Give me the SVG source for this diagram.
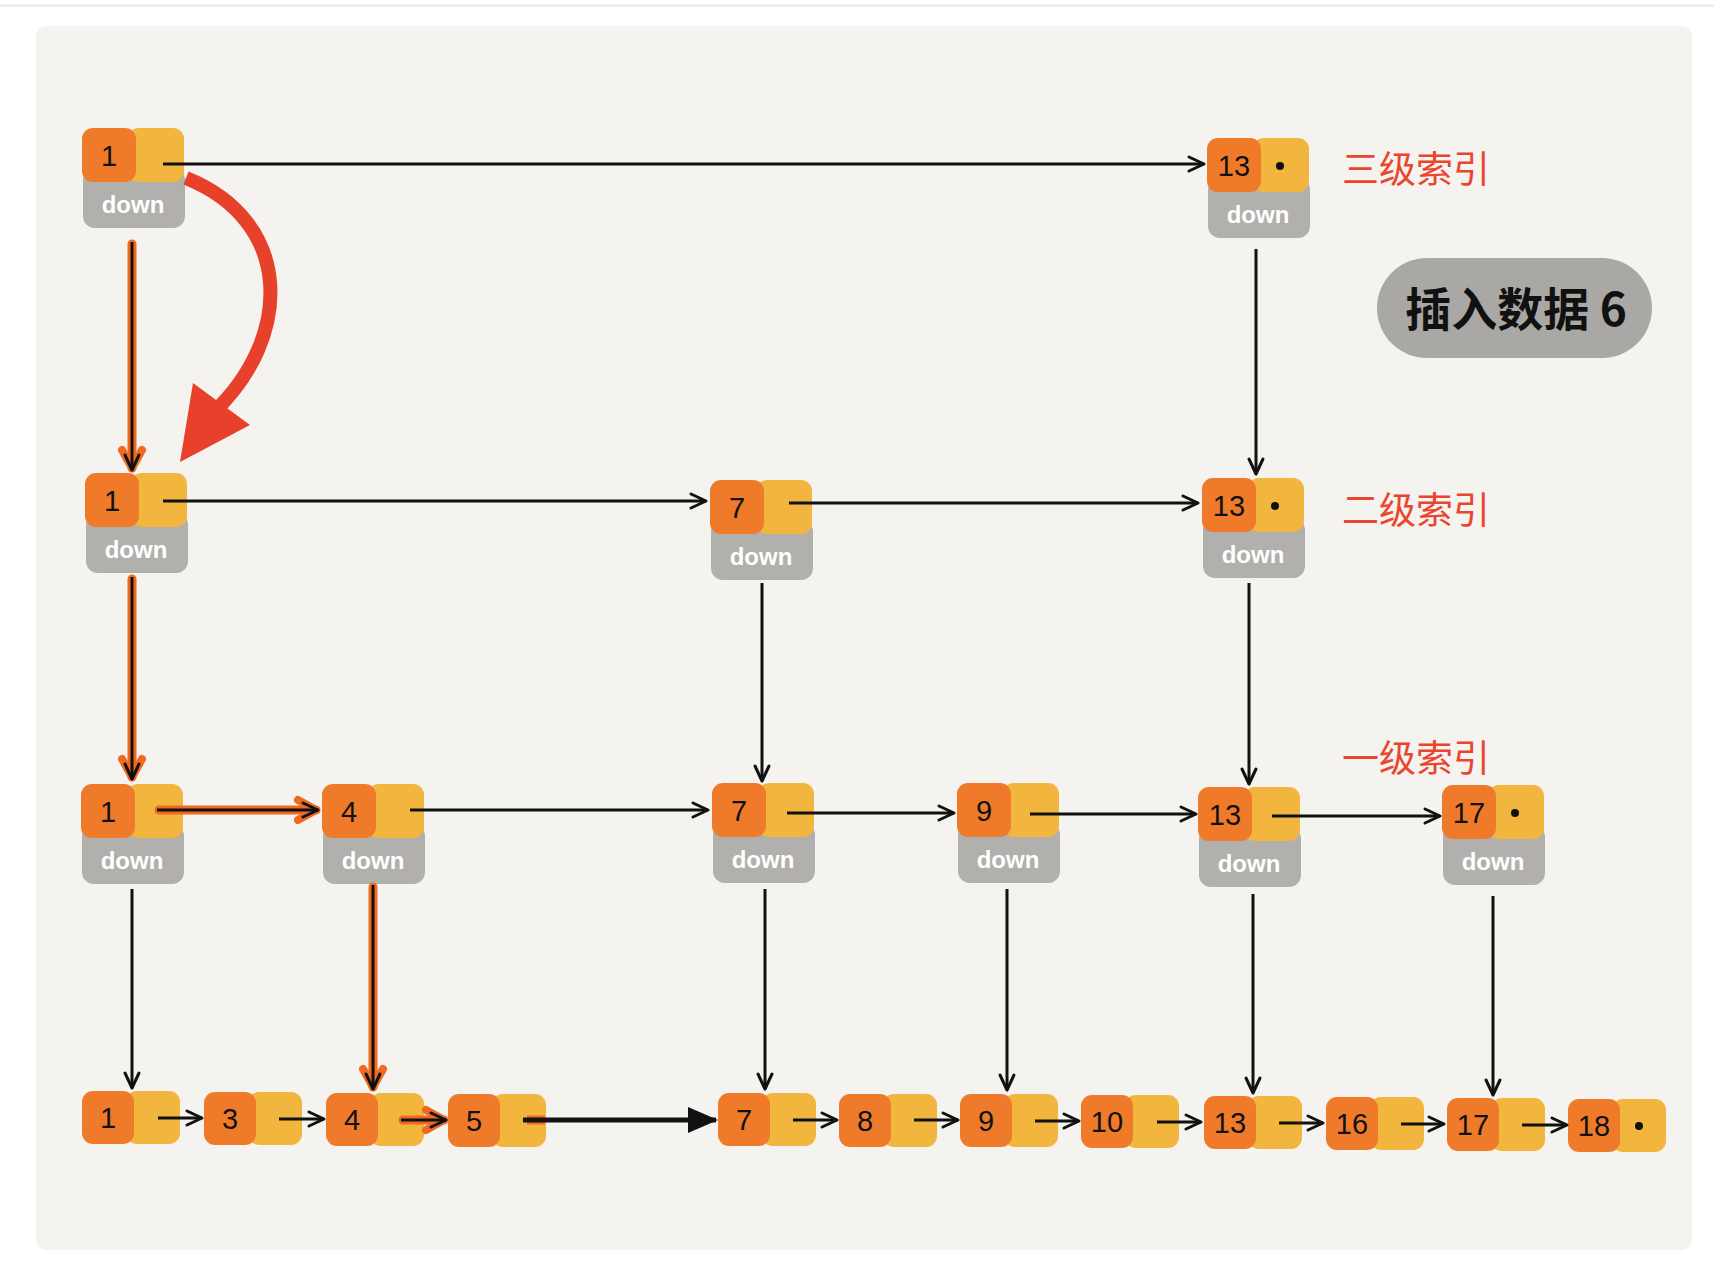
<svg xmlns="http://www.w3.org/2000/svg" xmlns:xlink="http://www.w3.org/1999/xlink" width="1714" height="1272" viewBox="0 0 1714 1272">
<style>
.o{fill:#ef7b2a}
.y{fill:#f2b63f}
.g{fill:#b1b0ad}
.num{font-family:"Liberation Sans","DejaVu Sans",sans-serif;font-size:29px;fill:#111;text-anchor:middle}
.dn{font-family:"Liberation Sans","DejaVu Sans",sans-serif;font-size:24px;font-weight:bold;fill:#fff;text-anchor:middle}
.lvl{font-family:"Noto Sans CJK SC",sans-serif;font-size:37px;fill:#e9462d}
.ln{stroke:#111;stroke-width:3;fill:none}
.hl{stroke:#ef6a1f;stroke-width:9;fill:none;stroke-linecap:round}
.dot{fill:#111}
</style>
<defs>
<marker id="ah" viewBox="0 0 20 20" refX="18" refY="10" markerWidth="20" markerHeight="20" markerUnits="userSpaceOnUse" orient="auto"><path d="M3,3 L18,10 L3,17" fill="none" stroke="#111" stroke-width="3" stroke-linejoin="round" stroke-linecap="round"/></marker>
<marker id="ahO" viewBox="0 0 30 30" refX="24" refY="15" markerWidth="30" markerHeight="30" markerUnits="userSpaceOnUse" orient="auto"><path d="M6,5 L24,15 L6,25" fill="none" stroke="#ef6a1f" stroke-width="8" stroke-linejoin="round" stroke-linecap="round"/></marker>
<marker id="ahF" viewBox="0 0 30 30" refX="28" refY="15" markerWidth="30" markerHeight="30" markerUnits="userSpaceOnUse" orient="auto"><path d="M0,2 L30,15 L0,28 Z" fill="#111"/></marker>
<g id="idx">
<rect class="g" x="1" y="40" width="102" height="60" rx="12"/>
<rect class="y" x="46" y="0" width="56" height="54" rx="11"/>
<rect class="o" x="0" y="0" width="54" height="54" rx="11"/>
<text class="dn" x="51" y="85">down</text>
</g>
<g id="base">
<rect class="y" x="44" y="0" width="54" height="53" rx="11"/>
<rect class="o" x="0" y="0" width="52" height="53" rx="11"/>
</g>
</defs>
<rect x="0" y="0" width="1714" height="1272" fill="#ffffff"/>
<line x1="0" y1="5.5" x2="1714" y2="5.5" stroke="#e8e8ee" stroke-width="2"/>
<rect x="36" y="26" width="1656" height="1224" rx="10" fill="#f4f3f0"/>

<g id="l3-n1" transform="translate(82,128)"><use xlink:href="#idx"/><text class="num" x="27" y="38">1</text></g>
<g id="l3-n13" transform="translate(1207,138)"><use xlink:href="#idx"/><text class="num" x="27" y="38">13</text><circle class="dot" cx="73" cy="28" r="4"/></g>

<g id="l2-n1" transform="translate(85,473)"><use xlink:href="#idx"/><text class="num" x="27" y="38">1</text></g>
<g id="l2-n7" transform="translate(710,480)"><use xlink:href="#idx"/><text class="num" x="27" y="38">7</text></g>
<g id="l2-n13" transform="translate(1202,478)"><use xlink:href="#idx"/><text class="num" x="27" y="38">13</text><circle class="dot" cx="73" cy="28" r="4"/></g>

<g id="l1-n1" transform="translate(81,784)"><use xlink:href="#idx"/><text class="num" x="27" y="38">1</text></g>
<g id="l1-n4" transform="translate(322,784)"><use xlink:href="#idx"/><text class="num" x="27" y="38">4</text></g>
<g id="l1-n7" transform="translate(712,783)"><use xlink:href="#idx"/><text class="num" x="27" y="38">7</text></g>
<g id="l1-n9" transform="translate(957,783)"><use xlink:href="#idx"/><text class="num" x="27" y="38">9</text></g>
<g id="l1-n13" transform="translate(1198,787)"><use xlink:href="#idx"/><text class="num" x="27" y="38">13</text></g>
<g id="l1-n17" transform="translate(1442,785)"><use xlink:href="#idx"/><text class="num" x="27" y="38">17</text><circle class="dot" cx="73" cy="28" r="4"/></g>

<g id="b-n1" transform="translate(82,1091)"><use xlink:href="#base"/><text class="num" x="26" y="37">1</text></g>
<g id="b-n3" transform="translate(204,1092)"><use xlink:href="#base"/><text class="num" x="26" y="37">3</text></g>
<g id="b-n4" transform="translate(326,1093)"><use xlink:href="#base"/><text class="num" x="26" y="37">4</text></g>
<g id="b-n5" transform="translate(448,1094)"><use xlink:href="#base"/><text class="num" x="26" y="37">5</text></g>
<g id="b-n7" transform="translate(718,1093)"><use xlink:href="#base"/><text class="num" x="26" y="37">7</text></g>
<g id="b-n8" transform="translate(839,1094)"><use xlink:href="#base"/><text class="num" x="26" y="37">8</text></g>
<g id="b-n9" transform="translate(960,1094)"><use xlink:href="#base"/><text class="num" x="26" y="37">9</text></g>
<g id="b-n10" transform="translate(1081,1095)"><use xlink:href="#base"/><text class="num" x="26" y="37">10</text></g>
<g id="b-n13" transform="translate(1204,1096)"><use xlink:href="#base"/><text class="num" x="26" y="37">13</text></g>
<g id="b-n16" transform="translate(1326,1097)"><use xlink:href="#base"/><text class="num" x="26" y="37">16</text></g>
<g id="b-n17" transform="translate(1447,1098)"><use xlink:href="#base"/><text class="num" x="26" y="37">17</text></g>
<g id="b-n18" transform="translate(1568,1099)"><use xlink:href="#base"/><text class="num" x="26" y="37">18</text><circle class="dot" cx="71" cy="27" r="4"/></g>

<g id="connectors">
<path class="ln" d="M163,164 H1204" marker-end="url(#ah)"/>
<path d="M186,178 C295,222 292,338 214,412" fill="none" stroke="#e8412b" stroke-width="14"/>
<polygon points="193,383 250,425 180,462" fill="#e8412b"/>
<path class="hl" d="M132,244 V468" marker-end="url(#ahO)"/>
<path class="ln" d="M132,242 V470" marker-end="url(#ah)"/>
<path class="ln" d="M1256,249 V474" marker-end="url(#ah)"/>
<path class="ln" d="M163,501 H706" marker-end="url(#ah)"/>
<path class="ln" d="M789,503 H1198" marker-end="url(#ah)"/>
<path class="hl" d="M132,579 V777" marker-end="url(#ahO)"/>
<path class="ln" d="M132,577 V779" marker-end="url(#ah)"/>
<path class="ln" d="M762,583 V781" marker-end="url(#ah)"/>
<path class="ln" d="M1249,583 V784" marker-end="url(#ah)"/>
<path class="hl" d="M159,810 H316" marker-end="url(#ahO)"/>
<path class="ln" d="M157,810 H318" marker-end="url(#ah)"/>
<path class="ln" d="M410,810 H708" marker-end="url(#ah)"/>
<path class="ln" d="M787,813 H954" marker-end="url(#ah)"/>
<path class="ln" d="M1030,814 H1196" marker-end="url(#ah)"/>
<path class="ln" d="M1272,816 H1440" marker-end="url(#ah)"/>
<path class="ln" d="M132,889 V1088" marker-end="url(#ah)"/>
<path class="hl" d="M373,887 V1087" marker-end="url(#ahO)"/>
<path class="ln" d="M373,885 V1089" marker-end="url(#ah)"/>
<path class="ln" d="M765,889 V1089" marker-end="url(#ah)"/>
<path class="ln" d="M1007,889 V1090" marker-end="url(#ah)"/>
<path class="ln" d="M1253,894 V1093" marker-end="url(#ah)"/>
<path class="ln" d="M1493,896 V1095" marker-end="url(#ah)"/>
<path class="ln" d="M158,1118 H202" marker-end="url(#ah)"/>
<path class="ln" d="M279,1119 H324" marker-end="url(#ah)"/>
<path class="hl" d="M403,1120 H444" marker-end="url(#ahO)"/>
<path class="ln" d="M401,1120 H446" marker-end="url(#ah)"/>
<path d="M527,1120 H545" stroke="#ef6a1f" stroke-width="9" fill="none"/>
<path d="M523,1120 H716" stroke="#111" stroke-width="5" fill="none" marker-end="url(#ahF)"/>
<path class="ln" d="M793,1120 H837" marker-end="url(#ah)"/>
<path class="ln" d="M914,1120 H958" marker-end="url(#ah)"/>
<path class="ln" d="M1035,1121 H1079" marker-end="url(#ah)"/>
<path class="ln" d="M1157,1122 H1201" marker-end="url(#ah)"/>
<path class="ln" d="M1279,1123 H1323" marker-end="url(#ah)"/>
<path class="ln" d="M1401,1124 H1444" marker-end="url(#ah)"/>
<path class="ln" d="M1522,1125 H1567" marker-end="url(#ah)"/>
</g>

<g id="labels">
<text class="lvl" x="1342" y="183">三级索引</text>
<text class="lvl" x="1342" y="524">二级索引</text>
<text class="lvl" x="1342" y="772">一级索引</text>
</g>
<g id="note">
<rect x="1377" y="258" width="275" height="100" rx="50" fill="#a9a8a4"/>
<text x="1516" y="326" text-anchor="middle" font-family="Noto Sans CJK SC,sans-serif" font-weight="bold" font-size="46" fill="#111">插入数据 6</text>
</g>
</svg>
